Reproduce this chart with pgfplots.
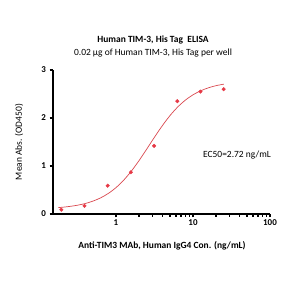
\documentclass[border=0pt]{standalone}
\usepackage{pgfplots}
\pgfplotsset{compat=1.18}
\usepackage{fontspec}
\setmainfont{Carlito}
\definecolor{pt}{HTML}{E63946}
\definecolor{ln}{HTML}{D9484F}
\begin{document}
\begin{tikzpicture}
\path[use as bounding box] (-53bp,-86bp) rectangle (247bp,214bp);
\begin{axis}[
  at={(0,0)}, anchor=south west,
  scale only axis, width=217bp, height=144bp,
  xmode=log, xmin=0.152, xmax=100, ymin=0, ymax=3,
  axis lines*=left, axis line style={-, line width=1.4pt},
  xtick={1,10,100}, xticklabels={1,10,100}, minor xtick={},
  ytick={0,1,2,3},
  tick align=outside, major tick length=3.5bp,
  tick style={line width=1.4pt, black},
  ticklabel style={font=\bfseries\fontsize{9}{10}\selectfont},
  xticklabel style={yshift=1bp},
  /pgf/number format/assume math mode=true,
  clip=false,
]
\addplot[ln, line width=0.7pt, smooth, no marks] coordinates {
(0.178,0.134)(0.1995,0.140)(0.251,0.158)(0.316,0.183)(0.398,0.218)
(0.501,0.268)(0.631,0.336)(0.794,0.428)(1,0.550)(1.259,0.705)
(1.585,0.895)(1.995,1.114)(2.512,1.355)(3.162,1.601)(3.981,1.836)
(5.012,2.048)(6.310,2.227)(7.943,2.371)(10,2.483)(12.59,2.567)
(15.85,2.629)(19.95,2.674)(25.12,2.705)};
\addplot[only marks, mark=*, mark size=1.8pt, pt] coordinates {
(0.195,0.09)(0.39,0.17)(0.78,0.59)(1.56,0.87)(3.125,1.42)
(6.25,2.35)(12.5,2.55)(25,2.60)};
\end{axis}
\node[font=\bfseries\fontsize{9.5}{11}\selectfont] at (100bp,174bp) {Human TIM-3, His Tag\ \ ELISA};
\node[font=\fontsize{9.5}{11}\selectfont] at (100bp,161bp) {0.02 µg of Human TIM-3, His Tag per well};
\node[font=\bfseries\fontsize{9.5}{11}\selectfont] at (109bp,-32bp) {Anti-TIM3 MAb, Human IgG4 Con. (ng/mL)};
\node[font=\fontsize{9.5}{11}\selectfont, rotate=90] at (-34bp,72bp) {Mean Abs. (OD450)};
\node[font=\fontsize{9.5}{11}\selectfont] at (184bp,59bp) {EC50=2.72 ng/mL};
\end{tikzpicture}
\end{document}
